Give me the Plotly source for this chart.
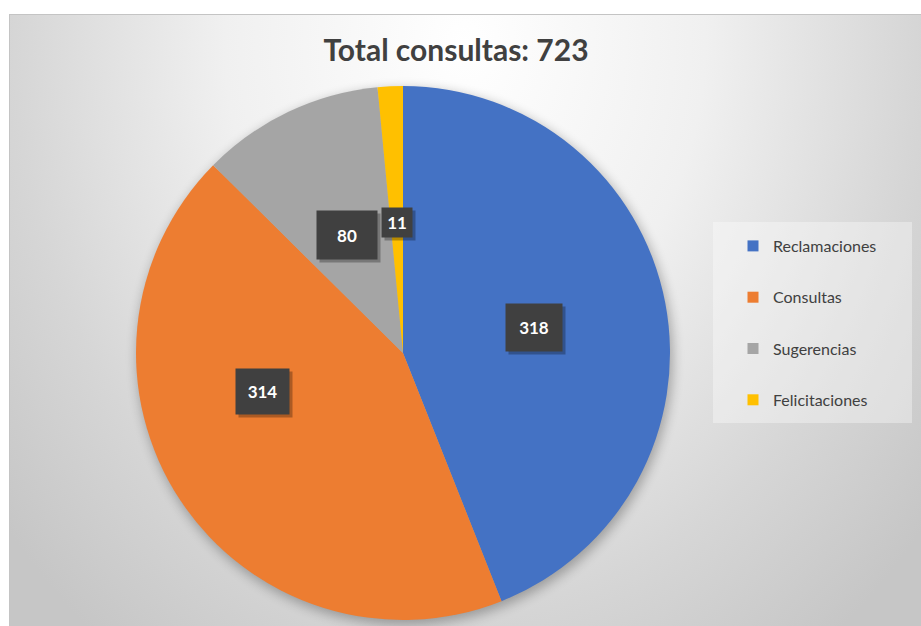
import base64
import math
import plotly.graph_objects as go

# data
categories = ['Reclamaciones', 'Consultas', 'Sugerencias', 'Felicitaciones']
values = [318, 314, 80, 11]
colors = ['#4472C4', '#ED7D31', '#A5A5A5', '#FFC000']
title_text = f'Total consultas: {sum(values)}'

W, H = 921, 626
FONT = 'Lato, "Open Sans", sans-serif'

# pie placement (pixels)
pie_cx, pie_cy, pie_r = 403, 353, 267
dom_x = [(pie_cx - pie_r) / W, (pie_cx + pie_r) / W]
dom_y = [1 - (pie_cy + pie_r) / H, 1 - (pie_cy - pie_r) / H]

# chart area: gradient background + soft pie shadow, as an svg image
ox, oy = 9, 14
svg = f'''<svg xmlns="http://www.w3.org/2000/svg" width="{W - ox}" height="{H - oy}" viewBox="0 0 {W - ox} {H - oy}" preserveAspectRatio="none">
<defs><radialGradient id="g" gradientUnits="userSpaceOnUse" cx="456" cy="30" r="600"
 gradientTransform="translate(456 30) scale(1 1.25) translate(-456 -30)">
<stop offset="0" stop-color="#ffffff"/><stop offset="0.4" stop-color="#f0f0f0"/>
<stop offset="0.75" stop-color="#d6d6d6"/><stop offset="1" stop-color="#c6c6c6"/></radialGradient>
<filter id="b" x="-20%" y="-20%" width="140%" height="140%"><feGaussianBlur stdDeviation="6"/></filter></defs>
<rect x="0.5" y="0.5" width="{W - ox + 5}" height="{H - oy + 5}" fill="url(#g)" stroke="#c4c4c4" stroke-width="1"/>
<circle cx="{pie_cx - ox + 2}" cy="{pie_cy - oy + 4}" r="{pie_r + 1}" fill="#000" opacity="0.28" filter="url(#b)"/></svg>'''
bg_src = 'data:image/svg+xml;base64,' + base64.b64encode(svg.encode()).decode()

fig = go.Figure()
fig.add_trace(go.Pie(
    labels=categories, values=values, sort=False, direction='clockwise', rotation=0,
    marker=dict(colors=colors, line=dict(width=0)),
    textinfo='none', hoverinfo='label+value', showlegend=False,
    domain=dict(x=dom_x, y=dom_y),
))

# legend entries (one group each so the gap can be set)
for name, col in zip(categories, colors):
    fig.add_trace(go.Scatter(
        x=[None], y=[None], mode='markers', name=name, legendgroup=name,
        marker=dict(symbol='square', size=11, color=col),
    ))

# value labels: dark boxes placed on each slice
label_spots = [(0.50, 0), (0.645, 20.5), (0.49, 0), (0.49, 0)]  # radius fraction, angle tweak
box_sizes = [(54, 45), (51, 43), (58, 46), (28, 27)]
total = sum(values)
start = 0
for v, (rf, tweak), (bw, bh) in zip(values, label_spots, box_sizes):
    mid = start + v / total * 360 / 2 + tweak
    start += v / total * 360
    dx = rf * pie_r * math.sin(math.radians(mid))
    dy = rf * pie_r * math.cos(math.radians(mid))
    ax = (pie_cx + dx) / W
    ay = 1 - (pie_cy - dy) / H
    # shadow
    fig.add_annotation(x=ax, y=ay, xref='paper', yref='paper', text=' ', showarrow=False,
                       width=bw, height=bh, bgcolor='rgba(0,0,0,0.28)', xshift=3, yshift=-3)
    fig.add_annotation(x=ax, y=ay, xref='paper', yref='paper', text=f'<b>{v}</b>', showarrow=False,
                       width=bw, height=bh, bgcolor='#404040',
                       font=dict(color='white', size=17, family=FONT))

fig.add_layout_image(dict(source=bg_src, xref='paper', yref='paper', x=ox / W, y=1 - oy / H,
                          sizex=(W - ox) / W, sizey=(H - oy) / H, sizing='stretch',
                          xanchor='left', yanchor='top', layer='below'))

# legend box
fig.add_shape(type='rect', xref='paper', yref='paper', x0=713 / W, x1=912 / W,
              y0=1 - 423 / H, y1=1 - 222 / H, fillcolor='rgba(255,255,255,0.35)', line=dict(width=0),
              layer='below')

fig.update_layout(
    width=W, height=H, margin=dict(l=0, r=0, t=0, b=0),
    paper_bgcolor='white', plot_bgcolor='rgba(0,0,0,0)',
    title=dict(text=f'<b>{title_text}</b>', x=456 / W, xanchor='center', y=1 - 50 / H, yanchor='middle',
               font=dict(size=30, color='#404040', family=FONT)),
    xaxis=dict(visible=False), yaxis=dict(visible=False),
    legend=dict(x=733 / W, xanchor='left', y=1 - 229 / H, yanchor='top', bgcolor='rgba(0,0,0,0)',
                tracegroupgap=27.5, font=dict(size=16, color='#404040', family=FONT)),
    font=dict(family=FONT),
)

fig.write_html('out.html', config={'displayModeBar': False},
               post_script="document.body.style.margin='0';")
